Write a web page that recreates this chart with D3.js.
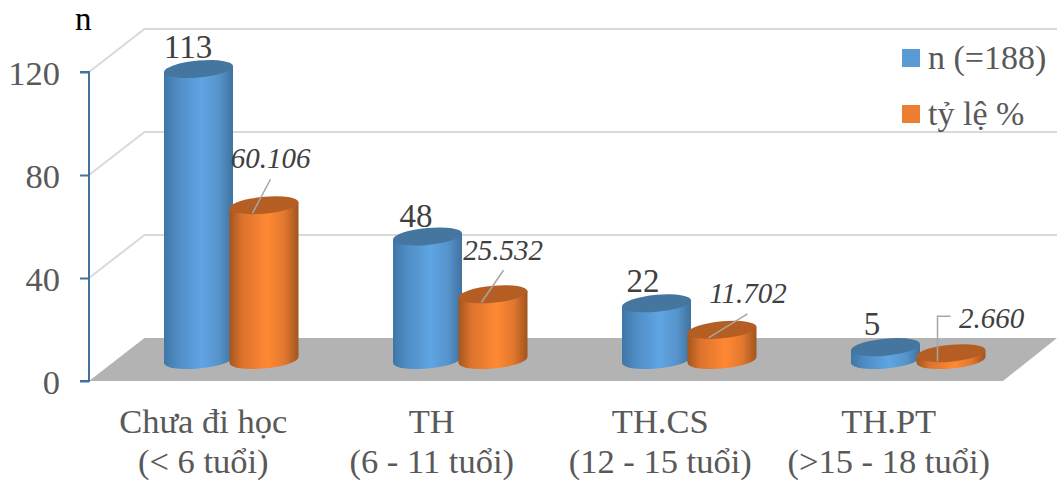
<!DOCTYPE html>
<html>
<head>
<meta charset="utf-8">
<script src="https://cdn.jsdelivr.net/npm/d3@7/dist/d3.min.js"></script>
<style>
  html, body { margin: 0; padding: 0; background: #fff; }
  svg { display: block; }
  text { font-family: "Liberation Serif", serif; }
</style>
</head>
<body>
<div id="chart"></div>
<script>
// Data
const categories = ["Chưa đi học", "TH", "TH.CS", "TH.PT"];
const ageRanges = ["(< 6 tuổi)", "(6 - 11 tuổi)", "(12 - 15 tuổi)", "(>15 - 18 tuổi)"];
const counts = [113, 48, 22, 5];
const percents = [60.106, 25.532, 11.702, 2.660];
const countLabels = ["113", "48", "22", "5"];
const percentLabels = ["60.106", "25.532", "11.702", "2.660"];
const seriesNames = ["n (=188)", "tỷ lệ %"];
const yTicks = [0, 40, 80, 120];

// Layout
const W = 1057, H = 482;
const plot = { left: 89, right: 1003, top: 72, bottom: 381 };
const depth = { x: 55.5, y: 43 };          // wall offset of the 3D box
const barDepth = { x: 27.75, y: 21 };      // bars stand mid-way on the floor
const radiusX = 34.5, radiusY = 8.5, tilt = -5;

const svg = d3.select("#chart").append("svg").attr("width", W).attr("height", H);

// Bars sit on a slightly wider band than the labels because of the perspective
const x = d3.scaleBand().domain(categories).range([plot.left, plot.right + 2]);
const xLabel = d3.scaleBand().domain(categories).range([plot.left, plot.right]);
const y = d3.scaleLinear().domain([0, 120]).range([plot.bottom, plot.top]);
const barOffset = 32.75;                   // distance of a cylinder axis from the group centre

// Horizontal shading on the cylinders
const defs = svg.append("defs");
function shade(id, stops) {
  const g = defs.append("linearGradient").attr("id", id)
    .attr("x1", 0).attr("x2", 1).attr("y1", 0).attr("y2", 0);
  stops.forEach(([o, c]) => g.append("stop").attr("offset", o).attr("stop-color", c));
}
shade("blueBody", [[0, "#3f76a6"], [0.2, "#4f8cc4"], [0.55, "#5fa5e4"], [0.8, "#5693cb"], [1, "#3f729f"]]);
shade("orangeBody", [[0, "#a4561f"], [0.18, "#db722d"], [0.55, "#ff8933"], [0.8, "#e2772e"], [1, "#a0541f"]]);

// Floor
svg.append("polygon")
  .attr("points", [
    [plot.left, y(0)], [plot.left + depth.x, y(0) - depth.y],
    [plot.right + depth.x - 1.5, y(0) - depth.y], [plot.right, y(0)]
  ].join(" "))
  .attr("fill", "#b3b3b3");

// Gridlines on the side and back walls
yTicks.filter(t => t > 0).forEach(t => {
  svg.append("path")
    .attr("d", d3.line()([
      [plot.left, y(t)], [plot.left + depth.x, y(t) - depth.y], [W, y(t) - depth.y]
    ]))
    .attr("fill", "none").attr("stroke", "#d9d9d9").attr("stroke-width", 2);
});

// Value axis
const axis = svg.append("g")
  .attr("transform", `translate(${plot.left},0)`)
  .call(d3.axisLeft(y).tickValues(yTicks).tickSize(9).tickPadding(20));
axis.selectAll("path, line").attr("stroke", "#41719c").attr("stroke-width", 2);
axis.select("path").attr("d", `M-9,${y(120)}H0V${y(0)}H-9`);
axis.selectAll("text")
  .attr("font-size", 34.5).attr("font-family", "Liberation Serif").attr("fill", "#595959")
  .attr("dy", null).attr("y", 12).attr("text-anchor", "end");

svg.append("text").attr("x", 75).attr("y", 30).attr("font-size", 33).attr("fill", "#000").text("n");

// One cylinder: skewed body plus a darker top ellipse
function cylinder(cx, value, bodyFill, topFill) {
  const baseY = y(0) - barDepth.y;
  const h = baseY - (y(value) - barDepth.y);
  const g = svg.append("g").attr("transform", `translate(${cx},${baseY}) skewY(${tilt})`);
  g.append("path")
    .attr("d", `M${-radiusX},${-h}V0A${radiusX},${radiusY} 0 0 0 ${radiusX},0V${-h}Z`)
    .attr("fill", `url(#${bodyFill})`);
  g.append("ellipse")
    .attr("cy", -h).attr("rx", radiusX).attr("ry", radiusY)
    .attr("fill", topFill);
}

categories.forEach((c, i) => {
  const mid = x(c) + x.bandwidth() / 2 + barDepth.x;
  cylinder(mid - barOffset, counts[i], "blueBody", "#44769f");
  cylinder(mid + barOffset, percents[i], "orangeBody", "#b55e23");
});

// Label placement relative to the top of each cylinder
const countLabelShift = [[-10.5, -11], [-11.5, -9], [-13.5, -11], [-13.5, -12]];
const leaderShift = [
  [[6.5, -26], [-11.5, 8]],
  [[10.5, -24], [-11.5, 8]],
  [[25.5, -16], [-13.5, 8]],
  [[-0.5, -37], [-13.5, -37], [-13.5, 8]]
];
const percentLabelShift = [[6.5, -37], [10, -34], [26, -27], [40.5, -25]];

categories.forEach((c, i) => {
  const mid = x(c) + x.bandwidth() / 2 + barDepth.x;
  const blueTop = y(counts[i]) - barDepth.y;
  const orangeTop = y(percents[i]) - barDepth.y;
  const orangeX = mid + barOffset;

  svg.append("path")
    .attr("d", d3.line()(leaderShift[i].map(([dx, dy]) => [orangeX + dx, orangeTop + dy])))
    .attr("fill", "none").attr("stroke", "#a6a6a6").attr("stroke-width", 1.5);

  svg.append("text")
    .attr("x", mid - barOffset + countLabelShift[i][0])
    .attr("y", blueTop + countLabelShift[i][1])
    .attr("text-anchor", "middle").attr("font-size", 33).attr("fill", "#404040")
    .text(countLabels[i]);

  svg.append("text")
    .attr("x", orangeX + percentLabelShift[i][0]).attr("y", orangeTop + percentLabelShift[i][1])
    .attr("text-anchor", "middle").attr("font-size", 29).attr("font-style", "italic").attr("fill", "#404040")
    .text(percentLabels[i]);

  // Category names, two lines under the floor
  const cx = xLabel(c) + xLabel.bandwidth() / 2;
  svg.append("text").attr("x", cx).attr("y", 433)
    .attr("text-anchor", "middle").attr("font-size", 34.5).attr("fill", "#595959").text(c);
  svg.append("text").attr("x", cx).attr("y", 473)
    .attr("text-anchor", "middle").attr("font-size", 34.5).attr("fill", "#595959").text(ageRanges[i]);
});

// Legend
const legendColors = ["#5b9bd5", "#ed7d31"];
seriesNames.forEach((name, i) => {
  const top = 49 + i * 56;
  svg.append("rect").attr("x", 902).attr("y", top).attr("width", 18).attr("height", 18)
    .attr("fill", legendColors[i]);
  svg.append("text").attr("x", 928).attr("y", top + 20).attr("font-size", 34).attr("fill", "#595959").text(name);
});
</script>
</body>
</html>
